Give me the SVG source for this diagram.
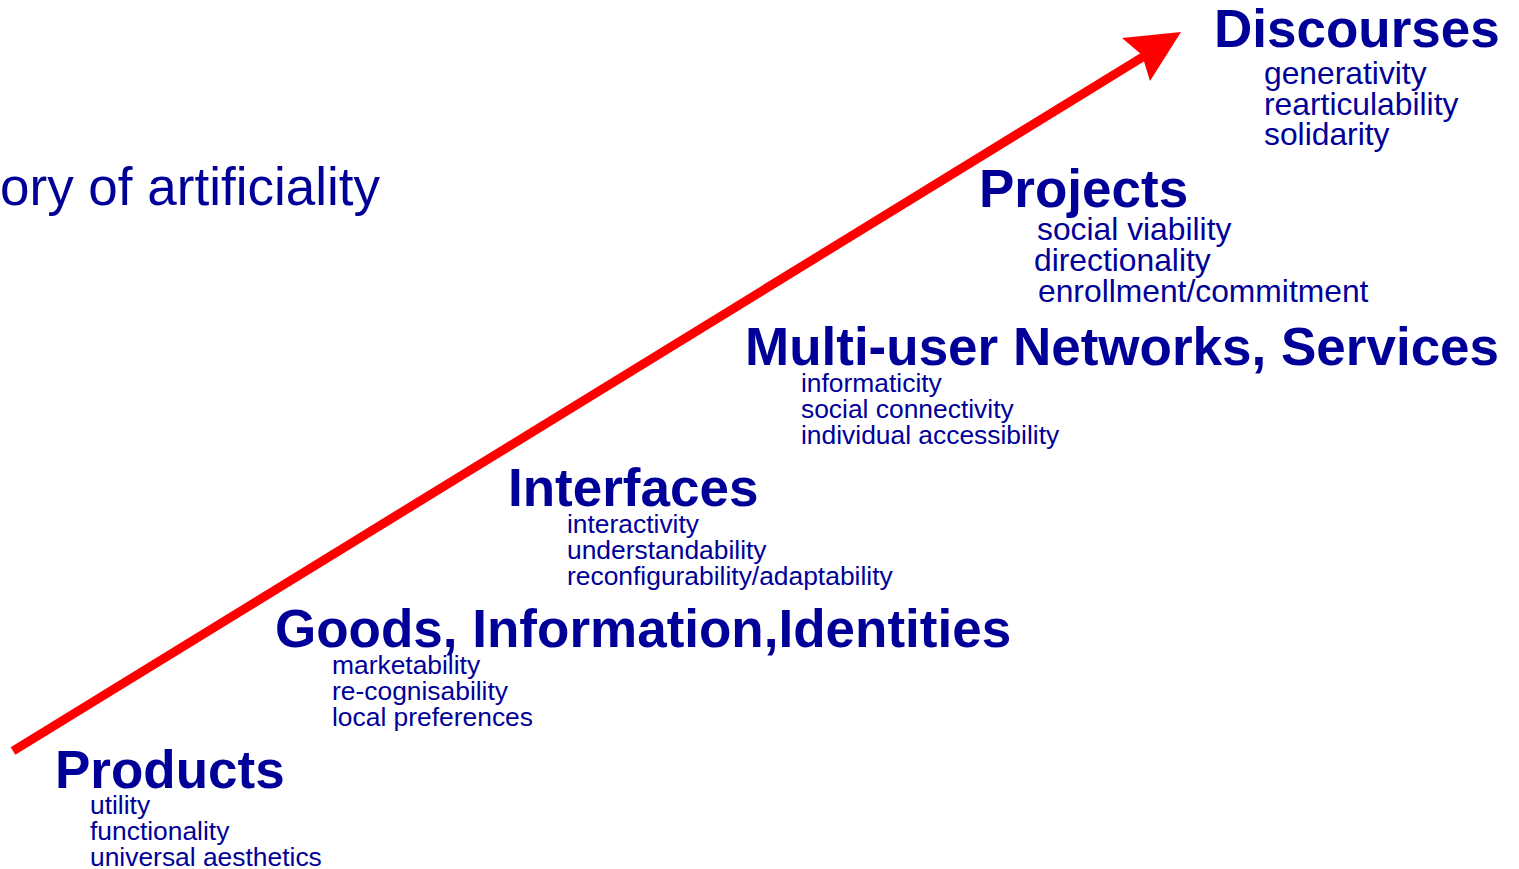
<svg xmlns="http://www.w3.org/2000/svg" width="1519" height="869" viewBox="0 0 1519 869">
<style>
.h{font-family:"Liberation Sans",Arial,sans-serif;font-weight:bold;font-size:53px;fill:#000099}
.s{font-family:"Liberation Sans",Arial,sans-serif;font-size:26.4px;fill:#000099}
.m{font-family:"Liberation Sans",Arial,sans-serif;font-size:31.8px;fill:#000099}
.t{font-family:"Liberation Sans",Arial,sans-serif;font-size:53px;fill:#000099}
</style>
<rect width="1519" height="869" fill="#ffffff"/>
<g id="connectors">
<line x1="13" y1="751" x2="1146" y2="55" stroke="#ff0000" stroke-width="9"/>
<polygon points="1181,32 1122,38 1142,55 1150,81" fill="#ff0000"/>
</g>
<text class="t" x="0" y="205">ory of artificiality</text>
<g id="products">
<text class="h" x="55" y="788">Products</text>
<text class="s" x="90" y="814">utility</text>
<text class="s" x="90" y="840">functionality</text>
<text class="s" x="90" y="866">universal aesthetics</text>
</g>
<g id="goods">
<text class="h" x="275" y="647">Goods, Information,Identities</text>
<text class="s" x="332" y="674">marketability</text>
<text class="s" x="332" y="700">re-cognisability</text>
<text class="s" x="332" y="726">local preferences</text>
</g>
<g id="interfaces">
<text class="h" x="508" y="506">Interfaces</text>
<text class="s" x="567" y="533">interactivity</text>
<text class="s" x="567" y="559">understandability</text>
<text class="s" x="567" y="585">reconfigurability/adaptability</text>
</g>
<g id="networks">
<text class="h" x="745" y="365">Multi-user Networks, Services</text>
<text class="s" x="801" y="392">informaticity</text>
<text class="s" x="801" y="418">social connectivity</text>
<text class="s" x="801" y="444">individual accessibility</text>
</g>
<g id="projects">
<text class="h" x="979" y="207">Projects</text>
<text class="m" x="1037" y="240">social viability</text>
<text class="m" x="1034" y="271">directionality</text>
<text class="m" x="1038" y="302">enrollment/commitment</text>
</g>
<g id="discourses">
<text class="h" x="1214" y="47">Discourses</text>
<text class="m" x="1264" y="84">generativity</text>
<text class="m" x="1264" y="115">rearticulability</text>
<text class="m" x="1264" y="145">solidarity</text>
</g>
</svg>
